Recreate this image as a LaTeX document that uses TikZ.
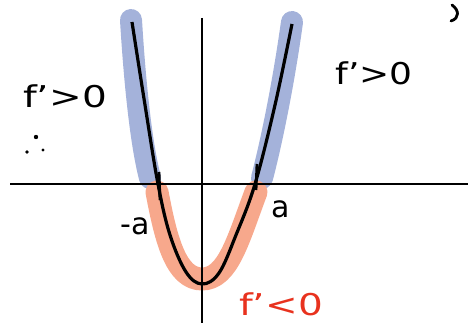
\documentclass[tikz,border=0pt]{standalone}
\usepackage{fontspec}
\setmainfont{DejaVu Sans}
\definecolor{bandblue}{HTML}{A4B2DA}
\definecolor{bandorange}{HTML}{F7A88C}
\definecolor{labred}{HTML}{E8321E}
\begin{document}
\begin{tikzpicture}[x=1pt,y=-1pt,
  axis/.style={line width=2.8pt,black},
  curve/.style={line width=3.2pt,black},
  blueband/.style={line width=22pt,bandblue,line cap=round,line join=round},
  orangeband/.style={line width=23pt,bandorange,line cap=round,line join=round},
  lab/.style={font=\fontsize{30}{30}\selectfont,inner sep=0pt},
  tickmark/.style={line width=2.8pt,black}]
\useasboundingbox (0,0) rectangle (468,326);
% bands
\draw[blueband] (131,20) .. controls (134,70) and (140,140) .. (150,178);
\draw[blueband] (292,22) .. controls (284,80) and (272,140) .. (262,178);
\draw[orangeband] (157,192) .. controls (166,240) and (176,279) .. (202,279)
   .. controls (228,279) and (238,240) .. (256,192);
% axes
\coordinate (xl) at (10,184); \coordinate (xr) at (468,184);
\coordinate (yt) at (202,18); \coordinate (yb) at (202,323);
\draw[axis] (xl) -- (xr);
\draw[axis] (yt) -- (yb);
% curve
\draw[curve] plot[smooth,tension=0.6] coordinates {(132,22) (145,105) (158,184) (170,235) (186,272) (202,284) (219,273) (236,235) (255,184) (275,105) (292,24)};
% ticks
\coordinate (t1a) at (159,172); \coordinate (t1b) at (160,200);
\coordinate (t2a) at (257,164); \coordinate (t2b) at (256,190);
\draw[tickmark] (t1a) -- (t1b);
\draw[tickmark] (t2a) -- (t2b);
% labels
\node[lab,xscale=1.3] (fl) at (65,96) {f'>0};
\node[lab,xscale=1.2] (fr) at (374,73) {f'>0};
\node[lab,xscale=1.3,text=labred] (fb) at (281,304) {f'<0};
\node[lab,font=\fontsize{30}{30}\selectfont] (ma) at (135,226) {-a};
\node[lab,font=\fontsize{30}{30}\selectfont] (pa) at (281,209) {a};
% therefore dots
\fill (36,137) circle (2.2pt);
\fill (27,152) circle (1.9pt);
\fill (43,150) circle (1.6pt);
% stray mark top right
\draw[line width=2.8pt,line cap=round] (452,5) .. controls (459,10) and (460,18) .. (451,21);
\end{tikzpicture}
\end{document}
